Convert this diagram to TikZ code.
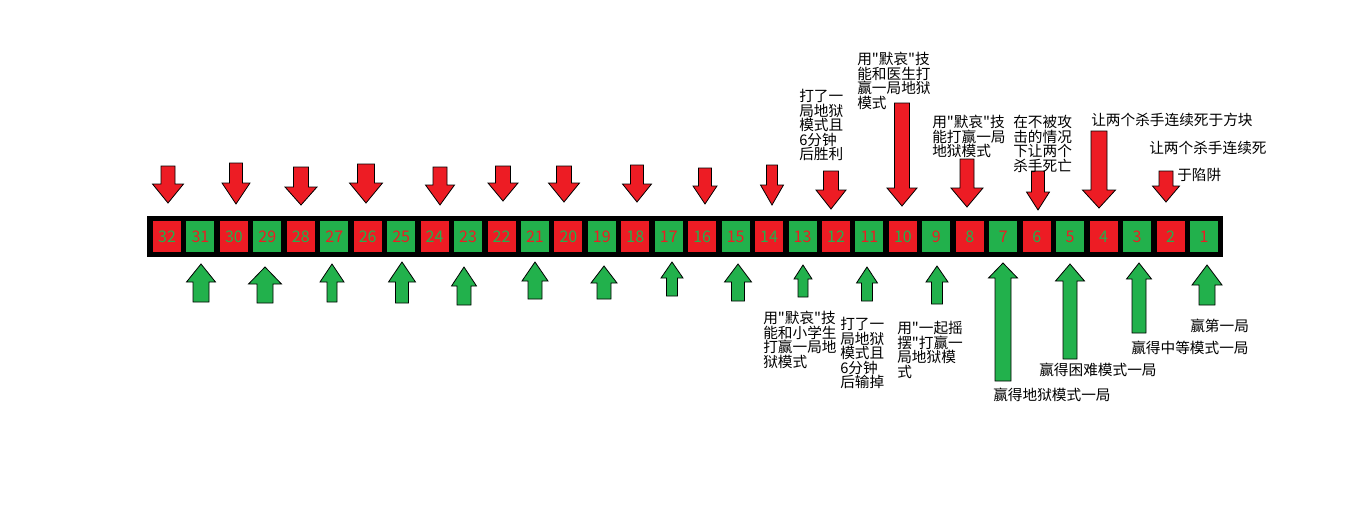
\documentclass[tikz,border=0pt]{standalone}
\usepackage{fontspec}
\setmainfont{Noto Sans CJK SC}[Ligatures=TeXOff]

\definecolor{paintred}{HTML}{ED1C24}
\definecolor{paintgreen}{HTML}{22B14C}

\begin{document}
\begin{tikzpicture}[
            x = 0.75pt, y = -0.75pt, % one unit = one pixel of the sketch
            line join = miter,
            box/.style = {minimum width = 21pt, minimum height = 23.25pt,
                inner sep = 0pt, font = \fontsize{12pt}{12pt}\selectfont},
            evenbox/.style = {box, fill = paintred, text = paintgreen},
            oddbox/.style = {box, fill = paintgreen, text = paintred},
            redarrow/.style = {draw = black, fill = paintred, line width = 0.6pt},
            greenarrow/.style = {draw = black, fill = paintgreen, line width = 0.6pt},
            note/.style = {anchor = north west, align = left, inner sep = 0pt,
                font = \fontsize{11pt}{10.9pt}\selectfont}
        ]

        \useasboundingbox (0,0) rectangle (1350,532);

        % black strip
        \fill[black] (147,216) rectangle (1223,257);

        % numbered squares, 32 on the left
        \foreach \n [evaluate = \n as \cx using 167+33.45*(32-\n)] in {1,...,32} {
            \ifodd\n
                \node[oddbox] (b\n) at (\cx,236.5) {\n};
            \else
                \node[evenbox] (b\n) at (\cx,236.5) {\n};
            \fi
        }

        % red arrows above: x, top, head, tip, shaft half width, head half width
        \foreach \xa/\ya/\yb/\yc/\sw/\hw in {
                168/166/184/203/7/15.5, 236/163/183/204/6.5/14,
                301/167/187/205/7.5/16, 366/164/183/203/8.5/16.5,
                440/167/185/205/7/14.5, 503/166/183/201/7.5/15,
                564/166/183/202/7.5/15.5, 637/165/184/202/6.5/14.5,
                705/168/186/204/6.5/12, 772/165/185/205/5.5/11.5,
                831/171/190/209/7.5/15, 902/103/188/206/7.5/15,
                967/159/188/207/7/16, 1038/171/192/210/6.5/11.5,
                1099/131/190/208/8/16.5, 1166/171/186/202/7/13.5}
            \draw[redarrow] (\xa-\sw,\ya) -- (\xa+\sw,\ya) -- (\xa+\sw,\yb)
                -- (\xa+\hw,\yb) -- (\xa,\yc) -- (\xa-\hw,\yb) -- (\xa-\sw,\yb) -- cycle;

        % green arrows below: x, tip, head, bottom, shaft half width, head half width
        \foreach \xa/\ya/\yb/\yc/\sw/\hw in {
                201/264/282/302/8/14.5, 265/267/284/303/8/16.5,
                332/264/282/302/5/12, 402/262/282/303/6.5/13.5,
                464/267/286/305/7/12.5, 535/262/281/299/7/13,
                604/266/283/299/7/13, 672/262/278/296/5.5/11,
                738/264/282/301/6.5/13.5, 803/265/279/297/5/9,
                867/267/283/301/5.5/10.5, 937/266/282/304/5.5/11,
                1003/263/278/381/8/14.5, 1070/264/281/359/7/14.5,
                1139/263/279/333/7/12.5, 1207/265/285/305/8/15}
            \draw[greenarrow] (\xa,\ya) -- (\xa+\hw,\yb) -- (\xa+\sw,\yb) -- (\xa+\sw,\yc)
                -- (\xa-\sw,\yc) -- (\xa-\sw,\yb) -- (\xa-\hw,\yb) -- cycle;

        % notes above
        \node[note] (t12) at (799,89) {打了一\\局地狱\\模式且\\6分钟\\后胜利};
        \node[note] (t10) at (857,52) {用"默哀"技\\能和医生打\\赢一局地狱\\模式};
        \node[note] (t8) at (932,115) {用"默哀"技\\能打赢一局\\地狱模式};
        \node[note] (t6) at (1013,115) {在不被攻\\击的情况\\下让两个\\杀手死亡};
        \node[note] (t4) at (1091,113) {让两个杀手连续死于方块};
        \node[note] (t2) at (1149,141) {让两个杀手连续死};
        \node[note] (t2b) at (1177,168) {于陷阱};

        % notes below
        \node[note] (t13) at (763,311) {用"默哀"技\\能和小学生\\打赢一局地\\狱模式};
        \node[note] (t11) at (840,317) {打了一\\局地狱\\模式且\\6分钟\\后输掉};
        \node[note] (t9) at (897,321) {用"一起摇\\摆"打赢一\\局地狱模\\式};
        \node[note] (t7) at (993,388) {赢得地狱模式一局};
        \node[note] (t5) at (1039,363) {赢得困难模式一局};
        \node[note] (t3) at (1131,341) {赢得中等模式一局};
        \node[note] (t1) at (1190,319) {赢第一局};

    \end{tikzpicture}
\end{document}
